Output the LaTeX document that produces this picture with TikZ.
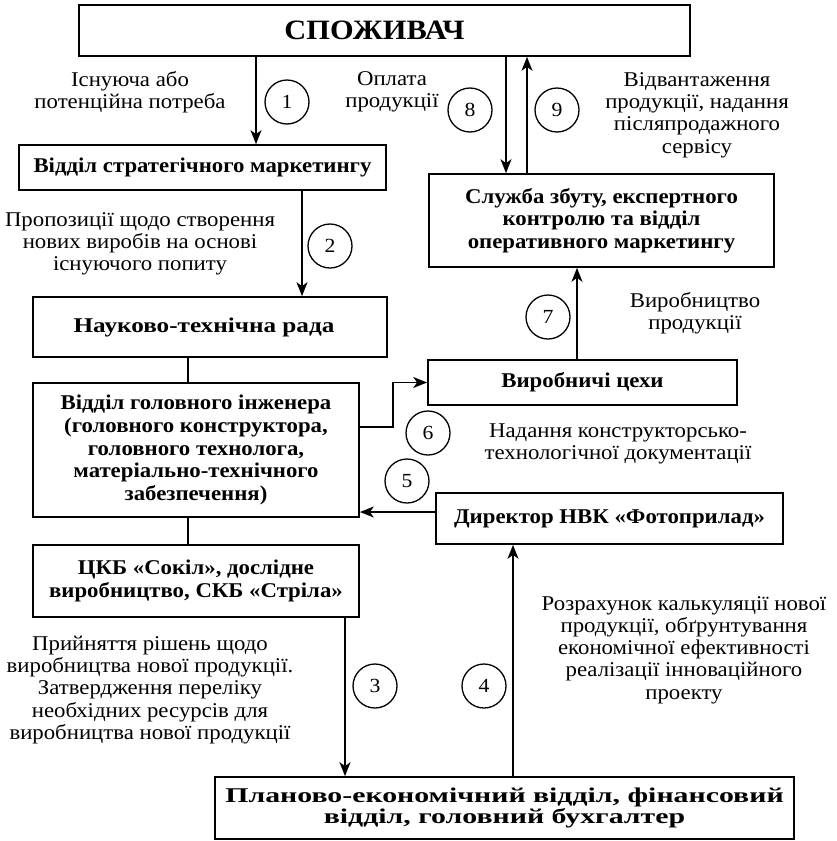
\documentclass[tikz,border=0pt]{standalone}
\usepackage{fontspec}
\setmainfont{Liberation Serif}[FakeStretch=1.085]
\newfontfamily\ntrfont{Liberation Serif}[FakeStretch=1.2]
\newfontfamily\pevfont{Liberation Serif}[FakeStretch=1.42]
\usetikzlibrary{arrows.meta}
\begin{document}
\begin{tikzpicture}[x=1pt,y=-1pt,
  box/.style={draw, line width=1.7pt, font=\fontsize{21}{22.7}\selectfont\bfseries, align=center, inner sep=0pt},
  lbl/.style={font=\fontsize{21}{22.3}\selectfont, align=center, inner sep=0pt},
  num/.style={draw, circle, line width=1.3pt, minimum size=44pt, inner sep=0pt, font=\fontsize{20}{22}\selectfont},
  arr/.style={line width=1.5pt, -{Stealth[length=14pt,width=11pt,inset=4pt]}},
  ln/.style={line width=1.5pt}]
\useasboundingbox (0,0) rectangle (836,841);
% boxes
\node[box, minimum width=611pt, minimum height=51pt, font=\fontsize{28}{30}\selectfont\bfseries] (cons) at (384.5,30.5) {СПОЖИВАЧ\hspace*{20pt}};
\node[box, minimum width=367pt, minimum height=45pt] (strat) at (202.5,167.5) {Відділ стратегічного маркетингу};
\node[box, minimum width=345pt, minimum height=93pt] (sales) at (601.5,220.5) {Служба збуту, експертного\\контролю та відділ\\оперативного маркетингу};
\node[box, minimum width=354pt, minimum height=60pt, font=\fontsize{21}{22.7}\selectfont\ntrfont\bfseries] (ntr) at (210,327) {Науково-технічна рада\hspace*{12pt}};
\node[box, minimum width=309pt, minimum height=45pt] (vir) at (582.5,382.5) {Виробничі цехи};
\node[box, minimum width=326pt, minimum height=134pt] (vgi) at (196,450) {Відділ головного інженера\\(головного конструктора,\\головного технолога,\\матеріально-технічного\\забезпечення)};
\node[box, minimum width=347pt, minimum height=51pt] (dir) at (609.5,518.5) {Директор НВК «Фотоприлад»};
\node[box, minimum width=326pt, minimum height=72pt] (ckb) at (196,581) {ЦКБ «Сокіл», дослідне\\виробництво, СКБ «Стріла»};
\node[box, minimum width=579pt, minimum height=62pt, font=\fontsize{21}{21.7}\selectfont\pevfont\bfseries] (pev) at (504.5,808) {Планово-економічний відділ, фінансовий\\відділ, головний бухгалтер};
% x positions of connectors
\coordinate (x1) at (256,0);
\coordinate (x2) at (302,0);
\coordinate (xm) at (188,0);
\coordinate (x3) at (345,0);
\coordinate (x4) at (513,0);
\coordinate (x7) at (577,0);
\coordinate (x8) at (506,0);
\coordinate (x9) at (527,0);
\coordinate (y5) at (0,512);
\coordinate (k6) at (393,427);
% connectors
\draw[arr] (cons.south -| x1) -- (strat.north -| x1);
\draw[arr] (strat.south -| x2) -- (ntr.north -| x2);
\draw[ln] (ntr.south -| xm) -- (vgi.north -| xm);
\draw[ln] (vgi.south -| xm) -- (ckb.north -| xm);
\draw[arr] (ckb.south -| x3) -- (pev.north -| x3);
\draw[arr] (pev.north -| x4) -- (dir.south -| x4);
\draw[arr] (dir.west |- y5) -- (vgi.east |- y5);
\draw[arr] (vgi.east |- k6) -- (k6) -- (k6 |- vir.west) -- (vir.west);
\draw[arr] (vir.north -| x7) -- (sales.south -| x7);
\draw[arr] (cons.south -| x8) -- (sales.north -| x8);
\draw[arr] (sales.north -| x9) -- (cons.south -| x9);
% numbered circles
\node[num] (n1) at (287,102) {1};
\node[num] (n2) at (330,246) {2};
\node[num] (n3) at (375,686) {3};
\node[num] (n4) at (484,686) {4};
\node[num] (n5) at (407,481) {5};
\node[num] (n6) at (428,433) {6};
\node[num] (n7) at (548,317) {7};
\node[num] (n8) at (470,110) {8};
\node[num] (n9) at (557,110) {9};
% labels
\node[lbl] (t1) at (130,92) {Існуюча або\\потенційна потреба};
\node[lbl] (t8) at (392,92) {Оплата\\продукції};
\node[lbl] (t9) at (697,115) {Відвантаження\\продукції, надання\\післяпродажного\\сервісу};
\node[lbl] (t2) at (140,244) {Пропозиції щодо створення\\нових виробів на основі\\існуючого попиту};
\node[lbl] (t7) at (695,313) {Виробництво\\продукції};
\node[lbl] (t6) at (618,444) {Надання конструкторсько-\\технологічної документації};
\node[lbl] (t4) at (684,650) {Розрахунок калькуляції нової\\продукції, обґрунтування\\економічної ефективності\\реалізації інноваційного\\проекту};
\node[lbl] (t3) at (150,690) {Прийняття рішень щодо\\виробництва нової продукції.\\Затвердження переліку\\необхідних ресурсів для\\виробництва нової продукції};
\end{tikzpicture}
\end{document}
